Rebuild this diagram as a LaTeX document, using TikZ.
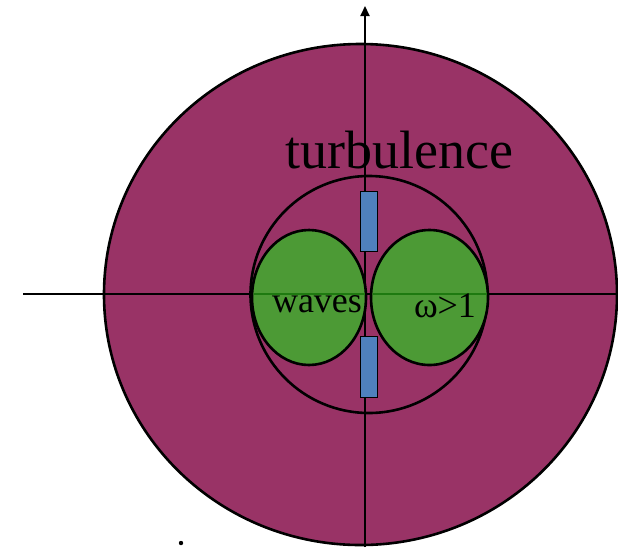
\documentclass[tikz,border=0pt]{standalone}
\usepackage{fontspec}
\setmainfont{Liberation Serif}
\usetikzlibrary{arrows.meta,shapes.geometric}
\definecolor{maroon}{HTML}{993366}
\definecolor{leaf}{HTML}{4C9A35}
\definecolor{steel}{HTML}{4F81BD}
\definecolor{darkleaf}{HTML}{1E7A10}
\tikzset{
  outline/.style={draw=black,line width=2.6pt},
  axis/.style={draw=black,line width=2pt},
  bar/.style={draw=black,fill=steel,line width=1.8pt},
  lbl/.style={inner sep=0pt,anchor=base,font=\fontsize{36}{36}\selectfont}
}
\begin{document}
\begin{tikzpicture}[x=1pt,y=-1pt]
\useasboundingbox (0,0) rectangle (618,547);
% big disc
\fill[maroon] (360.5,294.5) ellipse [x radius=256.5, y radius=250.5];
\draw[outline] (360.5,294.5) ellipse [x radius=256.5, y radius=250.5];
% axes
\coordinate (xl) at (23,294);
\coordinate (xr) at (618,294);
\coordinate (yb) at (365,547);
\coordinate (yt) at (365,6);
\draw[axis] (xl) -- (xr);
\draw[axis,-{Triangle[length=10pt,width=9pt]}] (yb) -- (yt);
% inner circle
\draw[outline] (369,294.5) circle [radius=118.5];
% green lobes
\node[ellipse,draw=black,fill=leaf,line width=2.6pt,minimum width=114pt,minimum height=135pt,inner sep=0pt] (lw) at (309,297.5) {};
\node[ellipse,draw=black,fill=leaf,line width=2.6pt,minimum width=117pt,minimum height=135pt,inner sep=0pt] (rw) at (429.5,297.5) {};
\draw[draw=darkleaf,line width=2pt] (253.5,294) -- (364.5,294);
\draw[draw=darkleaf,line width=2pt] (372.5,294) -- (486.5,294);
% bars
\node[bar,minimum width=17pt,minimum height=60pt,inner sep=0pt] (tb) at (369,221.5) {};
\node[bar,minimum width=17pt,minimum height=61pt,inner sep=0pt] (bb) at (369,367) {};
% labels
\node[inner sep=0pt,anchor=base,font=\fontsize{54}{54}\selectfont] (turb) at (399.5,168) {turbulence};
\node[lbl] (wv) at (317,312) {waves};
\node[lbl] (om) at (445,317) {ω>1};
% dot
\fill (181,543) circle [radius=2.2pt];
\end{tikzpicture}
\end{document}
